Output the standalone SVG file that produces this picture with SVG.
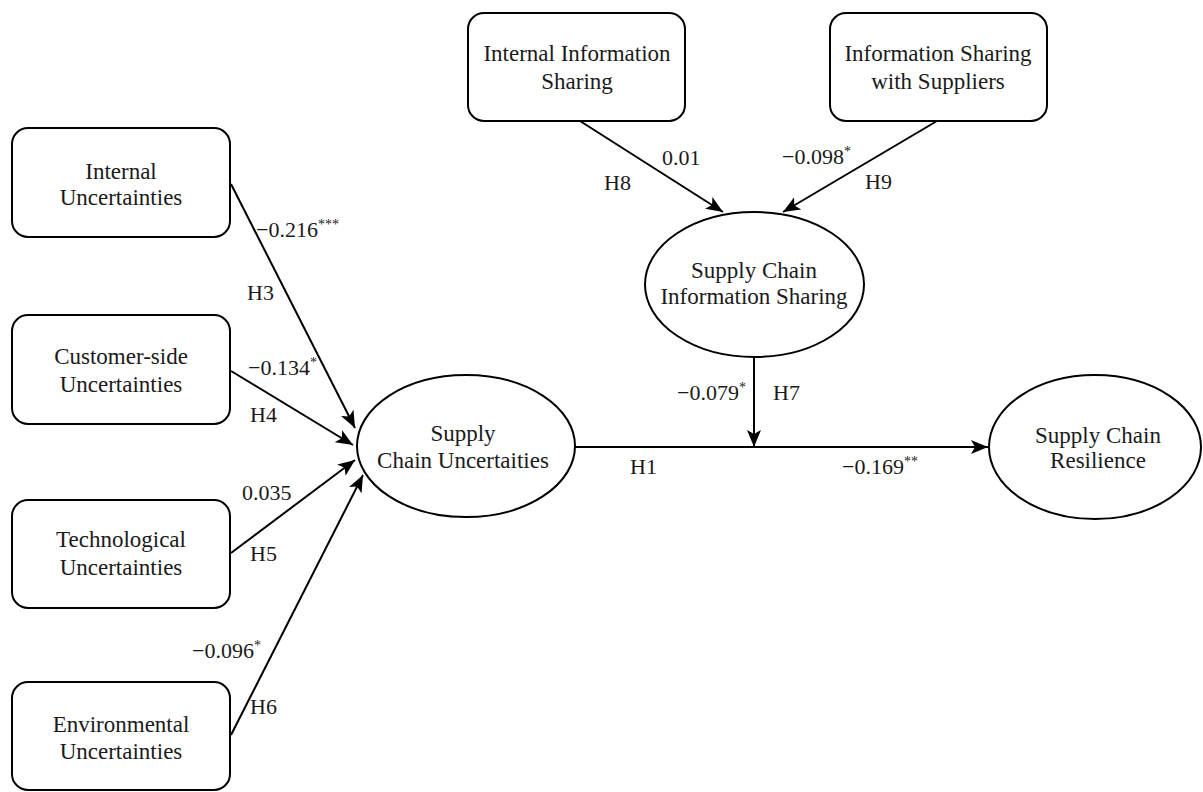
<svg xmlns="http://www.w3.org/2000/svg" width="1203" height="792" viewBox="0 0 1203 792">
<style>
.box{fill:#fff;stroke:#000;stroke-width:2}
.t{font-family:"Liberation Serif","Times New Roman",serif;font-size:23px;fill:#1a1a1a;text-anchor:middle}
.l{font-family:"Liberation Serif","Times New Roman",serif;font-size:22px;fill:#1a1a1a}
.sup{font-size:14px}
.c{stroke:#000;stroke-width:2;fill:none;marker-end:url(#ah)}
</style>
<defs>
<marker id="ah" markerUnits="userSpaceOnUse" markerWidth="18" markerHeight="14" refX="17" refY="7" orient="auto">
<path d="M0,0 L17,7 L0,14 L4,7 z" fill="#000"/>
</marker>
</defs>
<rect width="1203" height="792" fill="#fff"/>
<g id="connectors">
<line class="c" x1="231" y1="184" x2="355" y2="428"/>
<line class="c" x1="231" y1="371" x2="353" y2="445"/>
<line class="c" x1="231" y1="553" x2="355" y2="460"/>
<line class="c" x1="231" y1="735" x2="363" y2="475"/>
<line class="c" x1="575" y1="447" x2="988" y2="447"/>
<line class="c" x1="754" y1="357" x2="754" y2="447"/>
<line class="c" x1="580" y1="121" x2="723" y2="212"/>
<line class="c" x1="937" y1="121" x2="783" y2="212"/>
</g>
<g id="labels">
<text class="l" x="256" y="237">−0.216<tspan class="sup" dy="-8">***</tspan></text>
<text class="l" x="247" y="300">H3</text>
<text class="l" x="248" y="375">−0.134<tspan class="sup" dy="-8">*</tspan></text>
<text class="l" x="250" y="422">H4</text>
<text class="l" x="242" y="500">0.035</text>
<text class="l" x="250" y="561">H5</text>
<text class="l" x="192" y="658">−0.096<tspan class="sup" dy="-8">*</tspan></text>
<text class="l" x="250" y="714">H6</text>
<text class="l" x="662" y="165">0.01</text>
<text class="l" x="604" y="190">H8</text>
<text class="l" x="782" y="164">−0.098<tspan class="sup" dy="-8">*</tspan></text>
<text class="l" x="865" y="189">H9</text>
<text class="l" x="677" y="400">−0.079<tspan class="sup" dy="-8">*</tspan></text>
<text class="l" x="773" y="400">H7</text>
<text class="l" x="630" y="474">H1</text>
<text class="l" x="842" y="474">−0.169<tspan class="sup" dy="-8">**</tspan></text>
</g>
<g id="internal-uncertainties">
<rect class="box" x="12" y="128" width="218" height="109" rx="16"/>
<text class="t" x="121" y="179">Internal</text>
<text class="t" x="121" y="205">Uncertainties</text>
</g>
<g id="customer-side-uncertainties">
<rect class="box" x="12" y="315" width="218" height="109" rx="16"/>
<text class="t" x="121" y="364">Customer-side</text>
<text class="t" x="121" y="392">Uncertainties</text>
</g>
<g id="technological-uncertainties">
<rect class="box" x="12" y="500" width="218" height="108" rx="16"/>
<text class="t" x="121" y="547">Technological</text>
<text class="t" x="121" y="575">Uncertainties</text>
</g>
<g id="environmental-uncertainties">
<rect class="box" x="12" y="682" width="218" height="108" rx="16"/>
<text class="t" x="121" y="732">Environmental</text>
<text class="t" x="121" y="759">Uncertainties</text>
</g>
<g id="internal-information-sharing">
<rect class="box" x="468" y="13" width="217" height="108" rx="16"/>
<text class="t" x="577" y="61">Internal Information</text>
<text class="t" x="577" y="89">Sharing</text>
</g>
<g id="information-sharing-suppliers">
<rect class="box" x="830" y="13" width="217" height="108" rx="16"/>
<text class="t" x="938" y="61">Information Sharing</text>
<text class="t" x="938" y="89">with Suppliers</text>
</g>
<g id="supply-chain-information-sharing">
<ellipse class="box" cx="754.5" cy="284.5" rx="109.5" ry="72.5"/>
<text class="t" x="754" y="278">Supply Chain</text>
<text class="t" x="754" y="304">Information Sharing</text>
</g>
<g id="supply-chain-uncertainties">
<ellipse class="box" cx="466" cy="446" rx="109" ry="71"/>
<text class="t" x="463" y="441">Supply</text>
<text class="t" x="463" y="468">Chain Uncertaities</text>
</g>
<g id="supply-chain-resilience">
<ellipse class="box" cx="1095" cy="447" rx="106" ry="72"/>
<text class="t" x="1098" y="443">Supply Chain</text>
<text class="t" x="1098" y="468">Resilience</text>
</g>
</svg>
